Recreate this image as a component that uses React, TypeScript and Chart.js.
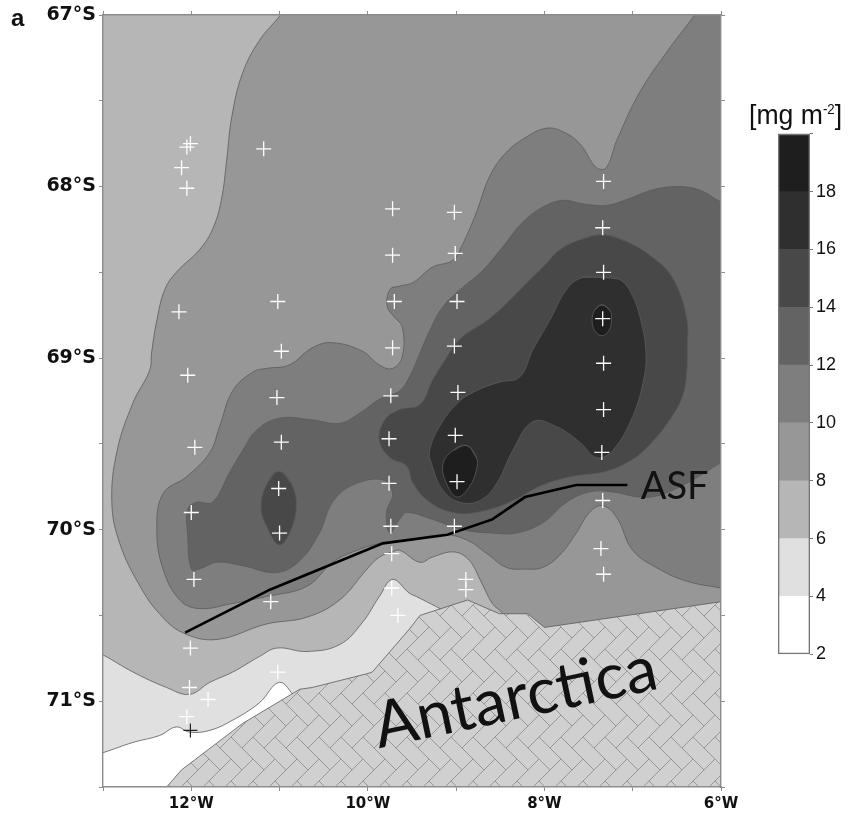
import React, { useEffect, useRef } from "react";
import { Chart, registerables } from "chart.js";

Chart.register(...registerables);

type P = number[];

const band4to6: P[] = [[-13.15,-71.32],[-13.0,-71.3],[-12.66,-71.24],[-12.36,-71.2],[-12.17,-71.15],[-12.02,-71.18],[-11.79,-71.17],[-11.53,-71.11],[-11.23,-71.01],[-11.0,-70.89],[-10.81,-70.98],[-10.55,-71.06],[-5,-71.2],[-5,-66],[-14,-66],[-14,-71.4]];
const band6to8: P[] = [[-13.15,-70.7],[-13.0,-70.73],[-12.66,-70.83],[-12.28,-70.92],[-12.02,-70.96],[-11.79,-70.89],[-11.53,-70.83],[-11.23,-70.74],[-11.03,-70.69],[-10.69,-70.71],[-10.32,-70.67],[-10.06,-70.54],[-9.87,-70.39],[-9.72,-70.29],[-9.53,-70.37],[-9.45,-70.39],[-9.22,-70.45],[-8.85,-70.55],[-5,-71],[-5,-66],[-14,-66],[-14,-70.6]];
const band8to10: P[] = [[-10.83,-66.88],[-10.99,-67.0],[-11.23,-67.15],[-11.42,-67.34],[-11.54,-67.59],[-11.6,-67.85],[-11.66,-68.08],[-11.76,-68.25],[-11.91,-68.37],[-12.17,-68.5],[-12.3,-68.6],[-12.39,-68.78],[-12.45,-68.97],[-12.47,-69.07],[-12.66,-69.26],[-12.84,-69.54],[-12.9,-69.84],[-12.81,-70.08],[-12.58,-70.33],[-12.36,-70.49],[-12.1,-70.6],[-11.71,-70.64],[-11.15,-70.55],[-10.69,-70.51],[-10.32,-70.41],[-10.01,-70.23],[-9.87,-70.16],[-9.72,-70.13],[-9.64,-70.12],[-9.41,-70.19],[-9.27,-70.16],[-9.02,-70.13],[-8.85,-70.18],[-8.73,-70.29],[-8.59,-70.43],[-8.47,-70.49],[-8.34,-70.61],[-5,-71],[-5,-66.5]];
const band10to12: P[] = [[-6.19,-66.91],[-6.3,-67.0],[-6.62,-67.22],[-6.92,-67.45],[-7.18,-67.73],[-7.3,-67.89],[-7.41,-67.89],[-7.6,-67.75],[-7.79,-67.68],[-7.98,-67.66],[-8.2,-67.71],[-8.43,-67.8],[-8.62,-67.94],[-8.77,-68.15],[-8.93,-68.34],[-9.04,-68.43],[-9.27,-68.47],[-9.49,-68.56],[-9.64,-68.58],[-9.75,-68.6],[-9.78,-68.7],[-9.7,-68.76],[-9.61,-68.82],[-9.61,-68.99],[-9.72,-69.06],[-9.87,-69.04],[-10.06,-68.96],[-10.4,-68.91],[-10.63,-68.94],[-10.89,-69.04],[-11.15,-69.06],[-11.3,-69.08],[-11.53,-69.19],[-11.68,-69.4],[-11.79,-69.55],[-12.05,-69.69],[-12.32,-69.79],[-12.39,-70.0],[-12.32,-70.23],[-12.13,-70.41],[-11.91,-70.46],[-11.53,-70.43],[-11.15,-70.39],[-10.69,-70.33],[-10.4,-70.19],[-10.17,-70.13],[-9.87,-70.08],[-9.64,-70.07],[-9.15,-70.03],[-8.88,-70.06],[-8.65,-70.14],[-8.43,-70.22],[-8.2,-70.23],[-8.02,-70.22],[-7.83,-70.15],[-7.64,-70.02],[-7.49,-69.9],[-7.34,-69.86],[-7.18,-69.93],[-7.0,-70.12],[-6.7,-70.23],[-6.39,-70.3],[-6.0,-70.34],[-5.74,-70.36],[-4.5,-70.3],[-4.5,-66.5]];
const band12to14: P[] = [[-5.74,-68.14],[-6.0,-68.09],[-6.24,-68.02],[-6.5,-68.0],[-6.78,-68.02],[-7.04,-68.07],[-7.3,-68.11],[-7.57,-68.1],[-7.79,-68.08],[-8.02,-68.12],[-8.25,-68.21],[-8.47,-68.35],[-8.7,-68.49],[-8.93,-68.59],[-9.15,-68.7],[-9.3,-68.84],[-9.41,-68.97],[-9.53,-69.11],[-9.64,-69.19],[-9.87,-69.24],[-10.09,-69.32],[-10.32,-69.38],[-10.63,-69.36],[-11.0,-69.35],[-11.26,-69.42],[-11.42,-69.54],[-11.57,-69.67],[-11.76,-69.84],[-11.94,-69.84],[-12.04,-69.88],[-12.04,-70.04],[-12.0,-70.23],[-11.91,-70.23],[-11.71,-70.19],[-11.42,-70.21],[-11.03,-70.25],[-10.77,-70.18],[-10.55,-70.02],[-10.4,-69.84],[-10.17,-69.74],[-9.83,-69.71],[-9.72,-69.79],[-9.79,-69.9],[-9.75,-70.02],[-9.64,-69.94],[-9.56,-69.9],[-9.27,-69.94],[-8.93,-70.0],[-8.59,-70.02],[-8.32,-70.02],[-8.02,-69.96],[-7.75,-69.84],[-7.49,-69.78],[-7.23,-69.78],[-6.92,-69.81],[-6.7,-69.8],[-6.39,-69.73],[-6.0,-69.61],[-5.74,-69.54],[-4.5,-69.4],[-4.5,-68.0]];
const band14to16East: P[] = [[-7.34,-68.28],[-7.07,-68.32],[-6.78,-68.41],[-6.55,-68.53],[-6.39,-68.76],[-6.38,-68.95],[-6.39,-69.1],[-6.44,-69.23],[-6.58,-69.36],[-6.78,-69.49],[-7.0,-69.59],[-7.3,-69.66],[-7.68,-69.69],[-8.02,-69.74],[-8.39,-69.84],[-8.77,-69.9],[-9.04,-69.9],[-9.3,-69.84],[-9.49,-69.73],[-9.56,-69.63],[-9.75,-69.58],[-9.87,-69.48],[-9.81,-69.36],[-9.64,-69.3],[-9.41,-69.27],[-9.27,-69.13],[-9.15,-69.03],[-8.96,-68.89],[-8.65,-68.78],[-8.43,-68.68],[-8.2,-68.56],[-8.02,-68.47],[-7.83,-68.37],[-7.6,-68.31],[-7.34,-68.28]];
const band14to16West: P[] = [[-11.01,-69.66],[-10.87,-69.73],[-10.81,-69.85],[-10.87,-70.0],[-11.0,-70.09],[-11.13,-70.0],[-11.21,-69.87],[-11.14,-69.73],[-11.01,-69.66]];
const band16to18: P[] = [[-7.34,-68.53],[-7.15,-68.54],[-7.0,-68.64],[-6.89,-68.82],[-6.85,-68.97],[-6.87,-69.11],[-7.0,-69.34],[-7.23,-69.54],[-7.41,-69.58],[-7.6,-69.49],[-7.86,-69.4],[-8.13,-69.37],[-8.36,-69.54],[-8.54,-69.73],[-8.73,-69.83],[-8.96,-69.84],[-9.15,-69.77],[-9.27,-69.63],[-9.3,-69.54],[-9.19,-69.4],[-8.98,-69.26],[-8.77,-69.19],[-8.51,-69.14],[-8.28,-69.11],[-8.13,-68.95],[-7.94,-68.78],[-7.75,-68.6],[-7.57,-68.53],[-7.34,-68.53]];
const band18East: P[] = [[-7.35,-68.69],[-7.26,-68.72],[-7.24,-68.78],[-7.27,-68.84],[-7.35,-68.87],[-7.43,-68.84],[-7.46,-68.78],[-7.43,-68.72],[-7.35,-68.69]];
const band18South: P[] = [[-8.88,-69.51],[-9.04,-69.54],[-9.15,-69.62],[-9.11,-69.73],[-8.99,-69.81],[-8.85,-69.75],[-8.77,-69.65],[-8.77,-69.58],[-8.88,-69.51]];
const antarctica: P[] = [[-12.28,-71.5],[-12.11,-71.4],[-11.42,-71.13],[-10.77,-70.93],[-10.63,-70.92],[-10.01,-70.84],[-9.95,-70.83],[-9.53,-70.58],[-9.41,-70.5],[-8.87,-70.41],[-8.51,-70.49],[-8.19,-70.49],[-8.0,-70.57],[-6.0,-70.42],[-6.0,-71.5],[-12.28,-71.5]];
const asfLine: P[] = [[-12.07,-70.6],[-11.11,-70.35],[-9.83,-70.08],[-9.1,-70.03],[-8.59,-69.94],[-8.22,-69.81],[-7.64,-69.74],[-7.06,-69.74]];
const stations: P[] = [[-12.01,-67.75],[-12.05,-67.77],[-12.11,-67.89],[-12.05,-68.01],[-11.18,-67.78],[-9.72,-68.13],[-9.72,-68.4],[-9.7,-68.67],[-11.02,-68.67],[-12.14,-68.73],[-10.98,-68.96],[-9.72,-68.94],[-12.04,-69.1],[-11.03,-69.23],[-9.74,-69.22],[-9.76,-69.47],[-10.98,-69.49],[-11.96,-69.52],[-11.01,-69.76],[-9.76,-69.73],[-12.0,-69.9],[-9.74,-69.98],[-11.0,-70.02],[-9.73,-70.14],[-11.97,-70.29],[-11.1,-70.42],[-9.73,-70.34],[-9.66,-70.5],[-12.01,-70.69],[-12.02,-70.92],[-11.81,-70.99],[-11.02,-70.83],[-12.05,-71.09],[-9.02,-68.15],[-9.01,-68.39],[-8.99,-68.67],[-9.02,-68.93],[-7.33,-67.97],[-7.34,-68.24],[-7.33,-68.5],[-7.34,-68.77],[-7.33,-69.03],[-8.98,-69.2],[-9.01,-69.45],[-8.99,-69.72],[-9.02,-69.98],[-7.33,-69.3],[-7.35,-69.55],[-7.34,-69.83],[-7.36,-70.11],[-7.33,-70.26],[-8.89,-70.29],[-8.89,-70.35]];
const blackStation: P[] = [[-12.01,-71.17]];

const barLevels: number[] = [2, 4, 6, 8, 10, 12, 14, 16, 18, 20];
const barColors: string[] = ["#ffffff", "#e0e0e0", "#b6b6b6", "#979797", "#7e7e7e", "#636363", "#484848", "#2f2f2f", "#1e1e1e"];

const lineColor = "#5a5a5a";
const frameColor = "#8c8c8c";
const axisFont = "'Liberation Sans', Arial, sans-serif";

const toXY = (a: P[]) => a.map(([x, y]) => ({ x, y }));

function herringbone(): CanvasPattern | string {
  const tile = document.createElement("canvas");
  tile.width = 22;
  tile.height = 44;
  const c = tile.getContext("2d");
  if (!c) return "#d0d0d0";
  c.fillStyle = "#d0d0d0";
  c.fillRect(0, 0, 22, 44);
  c.strokeStyle = "#979797";
  c.lineWidth = 1;
  const rect = (u0: number, v0: number, u1: number, v1: number) => {
    const m = (u: number, v: number) => [(u + v) * 11, (u - v) * 11];
    const cs = [m(u0, v0), m(u1, v0), m(u1, v1), m(u0, v1)];
    c.beginPath();
    c.moveTo(cs[0][0], cs[0][1]);
    cs.slice(1).forEach((q) => c.lineTo(q[0], q[1]));
    c.closePath();
    c.stroke();
  };
  for (let i = -8; i <= 8; i++) {
    for (let j = -8; j <= 8; j++) {
      const u = i + 2 * j;
      const v = i - 2 * j;
      rect(u, v, u + 2, v + 1);
      rect(u + 2, v - 1, u + 3, v + 1);
    }
  }
  const ctx = document.createElement("canvas").getContext("2d");
  return (ctx && ctx.createPattern(tile, "repeat")) || "#d0d0d0";
}

const regionFill = {
  id: "regionFill",
  beforeDatasetDraw(chart: any, args: any) {
    const ds = chart.data.datasets[args.index];
    if (!ds.regionColor) return;
    const { ctx, chartArea: a } = chart;
    ctx.save();
    ctx.beginPath();
    ctx.rect(a.left, a.top, a.right - a.left, a.bottom - a.top);
    ctx.clip();
    ctx.beginPath();
    args.meta.dataset.path(ctx);
    ctx.closePath();
    ctx.fillStyle = ds.regionColor;
    ctx.fill();
    ctx.restore();
  },
};

const mapLabels = {
  id: "mapLabels",
  afterDatasetsDraw(chart: any) {
    const { ctx, scales } = chart;
    const { x, y } = scales;
    ctx.save();
    ctx.fillStyle = "#111";
    ctx.textBaseline = "middle";
    ctx.textAlign = "left";
    ctx.font = "400 38px Lato, sans-serif";
    ctx.fillText("ASF", x.getPixelForValue(-6.91), y.getPixelForValue(-69.75));
    ctx.textBaseline = "alphabetic";
    ctx.translate(x.getPixelForValue(-8.28), y.getPixelForValue(-71.1));
    ctx.rotate((-12 * Math.PI) / 180);
    ctx.textAlign = "center";
    ctx.font = "400 64px Lato, sans-serif";
    ctx.fillText("Antarctica", 0, 0);
    ctx.restore();
    ctx.save();
    ctx.fillStyle = "#111";
    ctx.textBaseline = "middle";
    ctx.font = `bold 24px ${axisFont}`;
    ctx.fillText("a", 11, 19);
    ctx.restore();
  },
};

function region(data: P[], color: any, order: number, tension = 0.4) {
  return {
    data: toXY(data),
    showLine: true,
    fill: false,
    regionColor: color,
    borderColor: lineColor,
    borderWidth: 0.8,
    pointRadius: 0,
    tension,
    order,
  };
}

function loop(data: P[]): P[] {
  const open = data.slice(0, -1);
  return [open[open.length - 1], ...open, open[0], open[1]];
}

export default function App() {
  const mapRef = useRef<HTMLCanvasElement>(null);
  const barRef = useRef<HTMLCanvasElement>(null);

  useEffect(() => {
    const fitW = (w: number) => (s: any) => { s.width = w; };
    const fitH = (h: number) => (s: any) => { s.height = h; };
    const mapChart = new Chart(mapRef.current as HTMLCanvasElement, {
      type: "scatter",
      plugins: [regionFill, mapLabels],
      data: {
        datasets: [
          region(band4to6, barColors[1], 30),
          region(band6to8, barColors[2], 29),
          region(band8to10, barColors[3], 28),
          region(band10to12, barColors[4], 27),
          region(band12to14, barColors[5], 26),
          region(loop(band14to16East), barColors[6], 25),
          region(loop(band14to16West), barColors[6], 24),
          region(loop(band16to18), barColors[7], 23),
          region(loop(band18East), barColors[8], 22),
          region(loop(band18South), barColors[8], 21),
          region(antarctica, herringbone(), 20, 0),
          { data: toXY(asfLine), showLine: true, borderColor: "#000", borderWidth: 2.6, pointRadius: 0, tension: 0, order: 10 },
          { data: toXY(stations), showLine: false, pointStyle: "cross", pointRadius: 7.5, pointBorderColor: "#fff", pointBorderWidth: 1.3, order: 5 },
          { data: toXY(blackStation), showLine: false, pointStyle: "cross", pointRadius: 7, pointBorderColor: "#222", pointBorderWidth: 1.2, order: 4 },
        ] as any,
      },
      options: {
        animation: false,
        responsive: false,
        layout: { padding: 0 },
        plugins: { legend: { display: false }, tooltip: { enabled: false } },
        scales: {
          x: {
            type: "linear", position: "bottom", min: -13, max: -6, afterFit: fitH(33),
            border: { color: frameColor, width: 1.4, z: 2 },
            grid: { drawOnChartArea: false, tickLength: 4, color: frameColor },
            ticks: {
              stepSize: 1, autoSkip: false, maxRotation: 0, color: "#111", padding: 4,
              font: { family: "'DejaVu Sans'", weight: "bold", size: 15 },
              callback: (v: any) => (Number(v) % 2 === 0 ? `${Math.abs(Number(v))}°W` : ""),
            },
          },
          xTop: {
            type: "linear", position: "top", min: -13, max: -6, afterFit: fitH(15),
            border: { color: frameColor, width: 1.4, z: 2 },
            grid: { drawOnChartArea: false, tickLength: 4, color: frameColor },
            ticks: { stepSize: 1, display: false },
          },
          y: {
            type: "linear", position: "left", min: -71.5, max: -67, afterFit: fitW(103),
            border: { color: frameColor, width: 1.4, z: 2 },
            grid: { drawOnChartArea: false, tickLength: 4, color: frameColor },
            ticks: {
              stepSize: 0.5, autoSkip: false, color: "#111", padding: 3,
              font: { family: "'DejaVu Sans'", weight: "bold", size: 19 },
              callback: (v: any) => (Number.isInteger(Number(v)) ? `${Math.abs(Number(v))}°S` : ""),
            },
          },
          yRight: {
            type: "linear", position: "right", min: -71.5, max: -67, afterFit: fitW(141),
            border: { color: frameColor, width: 1.4, z: 2 },
            grid: { drawOnChartArea: false, tickLength: 4, color: frameColor },
            ticks: { stepSize: 0.5, display: false },
          },
        },
      } as any,
    });

    const bandSets = barColors.map((c, i) => ({
      data: [[barLevels[i], barLevels[i + 1]]],
      backgroundColor: c,
      borderWidth: 0,
      barPercentage: 1,
      categoryPercentage: 1,
      grouped: false,
      order: 2,
    }));
    const barChart = new Chart(barRef.current as HTMLCanvasElement, {
      type: "bar",
      data: {
        labels: [""],
        datasets: [
          {
            data: [[barLevels[0], barLevels[barLevels.length - 1]]],
            backgroundColor: "rgba(0,0,0,0)",
            borderColor: "#777",
            borderWidth: 1,
            borderSkipped: false,
            barPercentage: 1,
            categoryPercentage: 1,
            grouped: false,
            order: 1,
          },
          ...bandSets,
        ] as any,
      },
      options: {
        animation: false,
        responsive: false,
        layout: { padding: { top: 5, bottom: 8, left: 8 } },
        plugins: { legend: { display: false }, tooltip: { enabled: false } },
        scales: {
          x: { display: false, grid: { display: false } },
          y: {
            position: "right", min: 2, max: 20, afterFit: fitW(52),
            border: { display: false },
            grid: { drawOnChartArea: false, tickLength: 3, color: "#777" },
            ticks: {
              stepSize: 2, color: "#111", padding: 3,
              font: { family: axisFont, size: 18 },
              callback: (v: any) => (Number(v) === 20 ? "" : String(v)),
            },
          },
        },
      } as any,
    });

    return () => {
      mapChart.destroy();
      barChart.destroy();
    };
  }, []);

  return (
    <div style={{ position: "absolute", left: 0, top: 0, width: 862, height: 820, background: "#fff", overflow: "hidden" }}>
      <canvas ref={mapRef} width={862} height={820} style={{ position: "absolute", left: 0, top: 0 }} />
      <canvas ref={barRef} width={92} height={548} style={{ position: "absolute", left: 770, top: 120 }} />
      <div
        style={{
          position: "absolute", left: 749, top: 100, color: "#111", fontSize: 28, lineHeight: "30px", whiteSpace: "nowrap",
          transform: "scaleX(0.95)", transformOrigin: "left top",
          fontFamily: "'Liberation Sans', Arial, sans-serif",
        }}
      >
        [mg m<sup style={{ fontSize: 14, lineHeight: 0 }}>-2</sup>]
      </div>
    </div>
  );
}
